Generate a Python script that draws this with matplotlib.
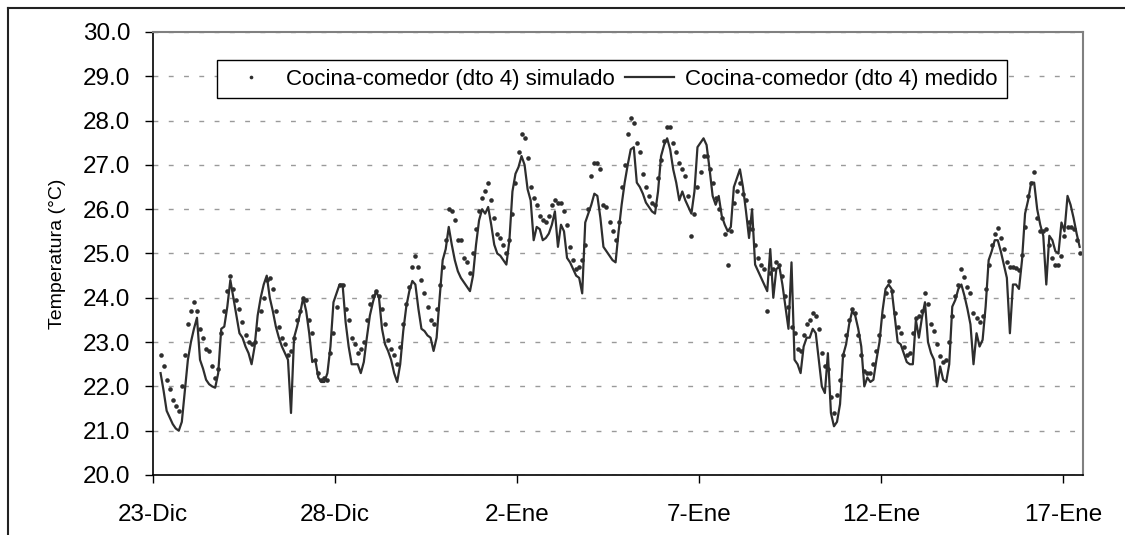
import numpy as np
import matplotlib.pyplot as plt
from matplotlib.lines import Line2D
from matplotlib.ticker import FormatStrFormatter

# Temperaturas cada 2 h desde el 23-Dic 05:00 (una fila por dia)
medido = [
    22.3, 21.9, 21.45, 21.3, 21.15, 21.05, 21.0, 21.2, 21.9, 22.6, 23.0, 23.3,
    23.55, 22.6, 22.4, 22.15, 22.05, 22.0, 21.97, 22.3, 23.3, 23.35, 23.8, 24.4,
    24.0, 23.6, 23.2, 23.1, 22.9, 22.75, 22.5, 22.9, 23.6, 24.0, 24.3, 24.5,
    24.0, 23.7, 23.35, 23.1, 22.9, 22.75, 22.6, 21.4, 23.1, 23.35, 23.65, 24.0,
    23.7, 23.2, 22.55, 22.6, 22.2, 22.1, 22.1, 22.3, 22.9, 23.9, 24.1, 24.3,
    24.3, 23.45, 22.9, 22.5, 22.5, 22.5, 22.3, 22.55, 23.1, 23.6, 23.9, 24.15,
    24.0, 23.3, 22.95, 22.8, 22.6, 22.3, 22.1, 22.5, 23.25, 23.8, 24.15, 24.38,
    24.3, 23.75, 23.3, 23.25, 23.15, 23.1, 22.8, 23.1, 24.0, 24.85, 25.1, 25.6,
    25.2, 24.85, 24.6, 24.45, 24.35, 24.25, 24.15, 24.5, 25.2, 25.75, 26.0, 25.9,
    26.05, 25.65, 25.2, 25.0, 24.95, 24.85, 24.75, 25.3, 26.4, 26.8, 26.95, 27.2,
    27.0, 26.45, 26.2, 25.3, 25.6, 25.55, 25.3, 25.35, 25.45, 25.65, 25.95, 25.15,
    25.65, 25.5, 24.9, 24.8, 24.65, 24.5, 24.45, 24.1, 25.7, 25.9, 26.1, 26.35,
    26.3, 25.8, 25.15, 25.05, 24.95, 24.85, 24.8, 25.5, 26.1, 26.6, 27.0, 27.35,
    27.4, 26.6, 26.5, 26.35, 26.15, 26.05, 25.95, 25.9, 26.4, 27.2, 27.45, 27.6,
    27.35, 26.9, 26.6, 26.2, 26.4, 26.2, 26.05, 25.9, 26.4, 27.4, 27.5, 27.6,
    27.45, 26.9, 26.3, 26.1, 26.3, 25.85, 25.65, 25.5, 25.6, 26.5, 26.7, 26.9,
    26.5, 25.95, 25.35, 26.0, 24.75, 24.6, 24.45, 24.3, 24.15, 25.1, 24.0, 24.65,
    24.7, 24.3, 23.8, 23.3, 24.8, 22.6, 22.5, 22.3, 22.9, 23.1, 23.1, 23.3,
    23.2, 22.6, 22.0, 21.85, 22.75, 21.4, 21.1, 21.2, 21.6, 22.7, 22.95, 23.4,
    23.7, 23.6, 23.3, 22.9, 22.0, 22.2, 22.1, 22.15, 22.6, 23.0, 23.7, 24.2,
    24.3, 24.2, 23.6, 23.0, 22.95, 22.75, 22.55, 22.5, 22.5, 23.5, 23.1, 23.55,
    23.9, 23.0, 22.75, 22.6, 22.0, 22.45, 22.15, 22.1, 22.5, 23.8, 23.95, 24.2,
    24.3, 24.05, 23.75, 23.4, 22.5, 23.2, 22.9, 23.05, 23.8, 24.85, 25.05, 25.3,
    25.3, 25.05, 24.75, 24.45, 23.2, 24.3, 24.3, 24.2, 24.85, 25.9, 26.2, 26.6,
    26.6, 26.0, 25.65, 25.4, 24.3, 25.4, 25.3, 25.05, 25.0, 25.7, 25.5, 26.3,
    26.1, 25.8, 25.45, 25.15,
]

simulado = [
    22.7, 22.45, 22.15, 21.95, 21.7, 21.55, 21.45, 22.0, 22.7, 23.4, 23.7, 23.9,
    23.7, 23.3, 23.1, 22.85, 22.8, 22.45, 22.2, 22.4, 23.2, 23.7, 24.15, 24.5,
    24.2, 23.95, 23.75, 23.45, 23.15, 23.0, 22.95, 23.0, 23.3, 23.7, 24.0, 24.4,
    24.45, 24.2, 23.7, 23.35, 23.1, 22.95, 22.7, 22.8, 23.1, 23.5, 23.7, 24.0,
    23.95, 23.5, 23.2, 22.6, 22.3, 22.15, 22.2, 22.15, 22.75, 23.2, 23.8, 24.3,
    24.3, 23.75, 23.5, 23.1, 22.95, 22.75, 22.85, 23.0, 23.5, 23.85, 24.05, 24.15,
    24.05, 23.75, 23.4, 23.05, 22.85, 22.7, 22.5, 22.9, 23.4, 23.85, 24.25, 24.7,
    24.95, 24.7, 24.4, 24.1, 23.8, 23.5, 23.4, 23.75, 24.3, 24.7, 25.3, 26.0,
    25.95, 25.75, 25.3, 25.3, 24.9, 24.8, 24.55, 25.0, 25.55, 25.95, 26.25, 26.4,
    26.6, 26.2, 25.8, 25.45, 25.35, 25.2, 25.0, 25.3, 25.9, 26.6, 27.3, 27.7,
    27.6, 27.15, 26.5, 26.25, 26.1, 25.85, 25.75, 25.7, 25.85, 26.1, 26.2, 26.15,
    26.15, 25.95, 25.65, 25.15, 24.85, 24.65, 24.7, 24.85, 25.2, 26.0, 26.75, 27.05,
    27.05, 26.9, 26.1, 26.05, 25.7, 25.5, 25.3, 25.7, 26.5, 27.0, 27.7, 28.05,
    27.95, 27.5, 27.3, 26.8, 26.5, 26.3, 26.15, 26.1, 26.7, 27.1, 27.55, 27.85,
    27.85, 27.5, 27.3, 27.05, 26.9, 26.75, 26.3, 25.4, 25.9, 26.5, 26.85, 27.2,
    27.2, 26.9, 26.6, 26.25, 26.0, 25.8, 25.45, 24.75, 25.5, 26.15, 26.4, 26.6,
    26.35, 26.2, 25.7, 25.55, 25.2, 24.9, 24.75, 24.65, 23.7, 24.55, 24.65, 24.8,
    24.75, 24.5, 24.05, 23.8, 23.35, 23.2, 22.85, 22.8, 23.15, 23.4, 23.5, 23.65,
    23.6, 23.3, 22.75, 22.45, 22.4, 21.75, 21.4, 21.8, 22.15, 22.7, 23.15, 23.5,
    23.75, 23.65, 23.15, 22.7, 22.35, 22.3, 22.3, 22.5, 22.8, 23.15, 23.6, 24.1,
    24.37, 24.15, 23.65, 23.35, 23.2, 22.9, 22.7, 22.75, 23.2, 23.55, 23.6, 23.7,
    24.1, 23.85, 23.4, 23.25, 22.95, 22.68, 22.56, 22.6, 23.0, 23.6, 24.05, 24.3,
    24.65, 24.48, 24.25, 24.1, 23.65, 23.55, 23.45, 23.6, 24.2, 24.75, 25.2, 25.45,
    25.57, 25.35, 25.1, 24.8, 24.7, 24.7, 24.67, 24.63, 24.97, 25.6, 26.3, 26.6,
    26.85, 25.8, 25.5, 25.5, 25.55, 25.2, 24.9, 24.74, 24.75, 24.95, 25.4, 25.6,
    25.6, 25.55, 25.3, 25.0,
]

etiquetas_x = ['23-Dic', '28-Dic', '2-Ene', '7-Ene', '12-Ene', '17-Ene']
posiciones_x = [0, 5, 10, 15, 20, 25]

plt.rcParams['font.family'] = ['Liberation Sans', 'DejaVu Sans']
plt.rcParams['lines.scale_dashes'] = False

fig = plt.figure(figsize=(11.25, 5.35), dpi=100)
ax = fig.add_axes([153 / 1125, 1 - 475 / 535, 930 / 1125, 443 / 535])

# dias desde el 23-Dic a las 00:00
dias = (5 + 2 * np.arange(len(medido))) / 24

ax.plot(dias, simulado, linestyle='none', marker='o', markersize=3.3,
        markeredgewidth=0, color='#2e2e2e',
        label='Cocina-comedor (dto 4) simulado')
ax.plot(dias, medido, color='#2e2e2e', lw=1.6,
        label='Cocina-comedor (dto 4) medido')

ax.set_xlim(0, 25.55)
ax.set_ylim(20, 30)
ax.set_yticks(np.arange(20, 31, 1))
ax.yaxis.set_major_formatter(FormatStrFormatter('%.1f'))
ax.set_xticks(posiciones_x)
ax.set_xticklabels(etiquetas_x)

ax.set_axisbelow(True)
ax.grid(axis='y', color='#9a9a9a', lw=1, linestyle=(0, (3.5, 7.5)))

for lado in ['left', 'bottom']:
    ax.spines[lado].set_color('black')
    ax.spines[lado].set_linewidth(1.2)
for lado in ['top', 'right']:
    ax.spines[lado].set_color('#808080')
    ax.spines[lado].set_linewidth(1.5)

ax.tick_params(axis='both', direction='out', length=6, width=1, labelsize=17.5)
ax.tick_params(axis='x', pad=15)
ax.tick_params(axis='y', pad=10.5)
ax.set_ylabel('Temperatura (°C)', fontsize=14, labelpad=12)

leg = ax.legend(ncol=2, loc='center',
                bbox_to_anchor=(612 / 1125, 1 - 79 / 535),
                bbox_transform=fig.transFigure, fontsize=16,
                frameon=True, fancybox=False, framealpha=1, edgecolor='black',
                handlelength=2.2, columnspacing=0.45, handletextpad=0.5,
                borderpad=0.4, markerscale=0.8)
leg.get_frame().set_linewidth(1)

# marco exterior
fig.add_artist(Line2D([8 / 1125, 8 / 1125], [0, 1 - 8 / 535],
                      transform=fig.transFigure, color='#222222', lw=1.5))
fig.add_artist(Line2D([8 / 1125, 1], [1 - 8 / 535, 1 - 8 / 535],
                      transform=fig.transFigure, color='#222222', lw=1.5))

fig.savefig('out.png', dpi=100)
